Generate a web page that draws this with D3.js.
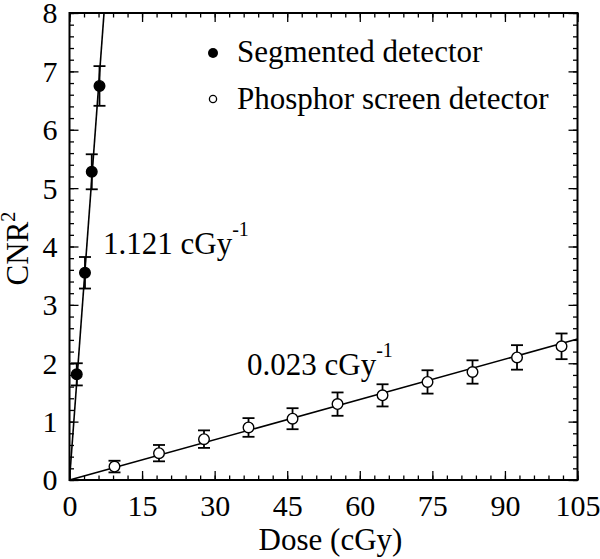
<!DOCTYPE html>
<html lang="en">
<head>
<meta charset="UTF-8">
<title>CNR2 vs dose</title>
<script src="https://cdn.jsdelivr.net/npm/d3@7"></script>
<style>
    body{ margin:0; background:#fff; }
    text{ font-family:"Liberation Serif","Times New Roman",serif; fill:#000; }
    .axis path{ display:none; }
    .axis line{ stroke:#000; stroke-width:1.3; }
</style>
</head>
<body>
<svg id="chart" width="600" height="559"></svg>
<script>
    // segmented detector
    let segDose = [1.5, 3.2, 4.6, 6.2]
    let segCnr = [1.81, 3.55, 5.28, 6.75]
    let segErr = [0.19, 0.27, 0.30, 0.34]
    // phosphor screen detector
    let phDose = [9.3, 18.5, 27.8, 37.0, 46.1, 55.4, 64.7, 74.0, 83.3, 92.5, 101.7]
    let phCnr = [0.23, 0.46, 0.70, 0.90, 1.05, 1.30, 1.45, 1.68, 1.85, 2.10, 2.29]
    let phErr = [0.10, 0.14, 0.15, 0.16, 0.18, 0.20, 0.19, 0.20, 0.20, 0.21, 0.22]
    let slopes = [1.121, 0.023]
    let xTicks = [0, 15, 30, 45, 60, 75, 90, 105]
    let yTicks = [0, 1, 2, 3, 4, 5, 6, 7, 8]
    let legendNames = ["Segmented detector", "Phosphor screen detector"]

    let mLeft = 69.5, mRight = 577.5, mTop = 13, mBottom = 480
    let svg = d3.select("#chart")

    let x = d3.scaleLinear().domain([0, 105]).range([mLeft, mRight])
    let y = d3.scaleLinear().domain([0, 8]).range([mBottom, mTop])

    let xMinor = d3.range(0, 105.01, 3)
    let yMinor = d3.range(0, 8.01, 0.2)

    // ticks, all pointing inward, on four sides
    function ticks(axis, vals, size, label, transform){
        let g = svg.append("g").attr("class", "axis").attr("transform", transform)
        g.call(axis.tickValues(vals).tickSize(size).tickFormat(label ? d3.format("d") : ""))
        return g
    }
    ticks(d3.axisBottom(x), xMinor, -4.5, false, `translate(0,${mBottom})`)
    ticks(d3.axisTop(x), xMinor, -4.5, false, `translate(0,${mTop})`)
    ticks(d3.axisLeft(y), yMinor, -4.5, false, `translate(${mLeft},0)`)
    ticks(d3.axisRight(y), yMinor, -4.5, false, `translate(${mRight},0)`)
    ticks(d3.axisTop(x), xTicks, -9, false, `translate(0,${mTop})`)
    ticks(d3.axisRight(y), yTicks, -9, false, `translate(${mRight},0)`)

    let gx = ticks(d3.axisBottom(x), xTicks, -9, true, `translate(0,${mBottom})`)
    gx.selectAll("text").attr("y", 36).attr("dy", 0).style("font-size", "30px")
    let gy = ticks(d3.axisLeft(y), yTicks, -9, true, `translate(${mLeft},0)`)
    gy.selectAll("text").attr("x", -12).attr("dy", "0.33em").style("font-size", "30px")

    // frame
    svg.append("rect")
        .attr("x", mLeft).attr("y", mTop)
        .attr("width", mRight - mLeft).attr("height", mBottom - mTop)
        .attr("fill", "none").attr("stroke", "#000").attr("stroke-width", 2)

    // fit lines through the origin
    svg.append("clipPath").attr("id", "clip")
        .append("rect").attr("x", mLeft).attr("y", mTop)
        .attr("width", mRight - mLeft).attr("height", mBottom - mTop)
    let line = d3.line().x(d => x(d[0])).y(d => y(d[1]))
    slopes.forEach(s => {
        let xEnd = Math.min(105, 8 / s)
        svg.append("path")
            .attr("d", line([[0, 0], [xEnd, s * xEnd]]))
            .attr("clip-path", "url(#clip)")
            .attr("fill", "none").attr("stroke", "#000").attr("stroke-width", 1.6)
    })

    function series(dose, cnr, err, fill){
        let g = svg.append("g")
        dose.forEach((d, i) => {
            let cx = x(d)
            g.append("line").attr("x1", cx).attr("x2", cx)
                .attr("y1", y(cnr[i] - err[i])).attr("y2", y(cnr[i] + err[i]))
                .attr("stroke", "#000").attr("stroke-width", 1.8)
            ;[cnr[i] - err[i], cnr[i] + err[i]].forEach(v => {
                g.append("line").attr("x1", cx - 6).attr("x2", cx + 6)
                    .attr("y1", y(v)).attr("y2", y(v))
                    .attr("stroke", "#000").attr("stroke-width", 1.8)
            })
            g.append("circle").attr("cx", cx).attr("cy", y(cnr[i])).attr("r", 5.3)
                .attr("fill", fill).attr("stroke", "#000").attr("stroke-width", 1.4)
        })
    }
    series(segDose, segCnr, segErr, "#000")
    series(phDose, phCnr, phErr, "#fff")

    // legend
    svg.append("circle").attr("cx", 213).attr("cy", 53).attr("r", 5).attr("fill", "#000")
    svg.append("circle").attr("cx", 213).attr("cy", 99).attr("r", 3.6)
        .attr("fill", "#fff").attr("stroke", "#000").attr("stroke-width", 1.3)
    legendNames.forEach((n, i) => {
        svg.append("text").attr("x", 237).attr("y", 62 + i * 47)
            .style("font-size", "31px").text(n)
    })

    // slope annotations
    function slopeLabel(xp, yp, val){
        let t = svg.append("text").attr("x", xp).attr("y", yp).style("font-size", "31px")
        t.append("tspan").text(val + " cGy")
        t.append("tspan").attr("dy", -18).style("font-size", "20px").text("-1")
    }
    slopeLabel(103, 254, slopes[0].toFixed(3))
    slopeLabel(247, 375, slopes[1].toFixed(3))

    // axis titles
    svg.append("text").attr("x", (mLeft + mRight) / 2 + 7).attr("y", 550)
        .attr("text-anchor", "middle").style("font-size", "31px").text("Dose (cGy)")
    let yl = svg.append("text")
        .attr("transform", `translate(28,${(mTop + mBottom) / 2 + 2}) rotate(-90)`)
        .attr("text-anchor", "middle").style("font-size", "31px")
    yl.append("tspan").text("CNR")
    yl.append("tspan").attr("dy", -13).style("font-size", "20px").text("2")
</script>
</body>
</html>
